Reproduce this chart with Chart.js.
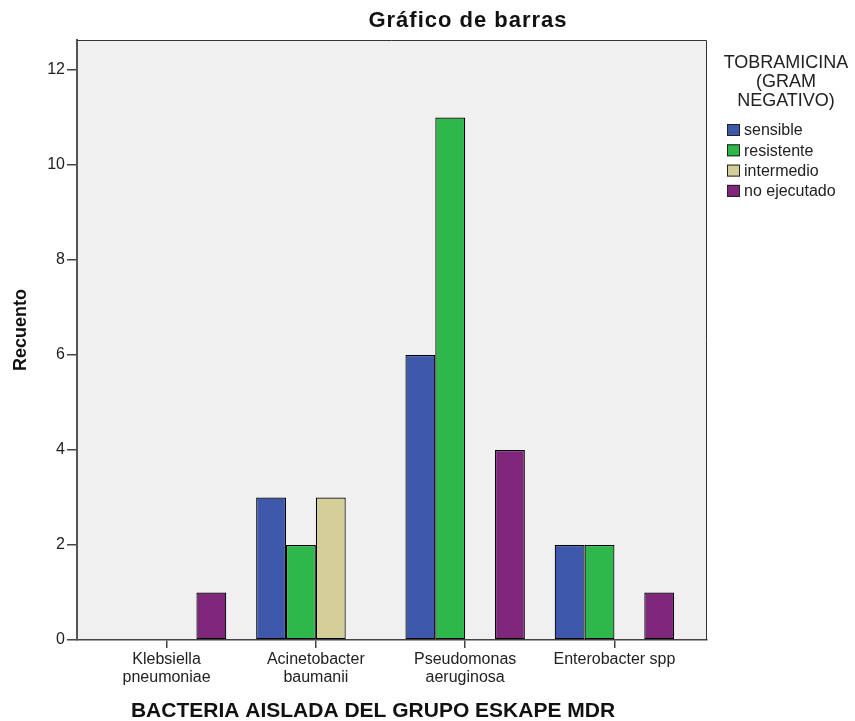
<!DOCTYPE html>
<html>
<head>
<meta charset="utf-8">
<script src="https://cdn.jsdelivr.net/npm/chart.js@4/dist/chart.umd.min.js"></script>
<style>
    body { margin: 0; background: #fff; }
</style>
</head>
<body>
<canvas id="chart" width="855" height="721"></canvas>
<script>
const categories = [
    ['Klebsiella', 'pneumoniae'],
    ['Acinetobacter', 'baumanii'],
    ['Pseudomonas', 'aeruginosa'],
    'Enterobacter spp'
]
const sensible = [null, 3, 6, 2]
const resistente = [null, 2, 11, 2]
const intermedio = [null, 3, null, null]
const noEjecutado = [1, null, 4, 1]
const yTicks = [0, 2, 4, 6, 8, 10, 12]
const legendTitle = ['TOBRAMICINA', '(GRAM', 'NEGATIVO)']

const FONT = 'Arial, "Liberation Sans", sans-serif'

function toPoints(values) {
    return values.map((v, i) => ({ x: i, y: v }))
}

// plot background + frame, titles and the legend drawn by hand (SPSS look)
const spssLook = {
    id: 'spssLook',
    beforeDraw(chart) {
        const { ctx, chartArea: a } = chart
        ctx.save()
        ctx.fillStyle = '#f0f0f0'
        ctx.fillRect(a.left, a.top, a.right - a.left, a.bottom - a.top)
        ctx.restore()
    },
    afterDraw(chart) {
        const { ctx, chartArea: a } = chart
        ctx.save()
        ctx.strokeStyle = '#333'
        ctx.lineWidth = 1
        ctx.beginPath()
        ctx.moveTo(a.left, a.top + 0.5)
        ctx.lineTo(a.right - 0.5, a.top + 0.5)
        ctx.lineTo(a.right - 0.5, a.bottom)
        ctx.stroke()

        ctx.fillStyle = '#111'
        ctx.textAlign = 'center'
        ctx.textBaseline = 'middle'

        // chart title
        ctx.font = 'bold 22px ' + FONT
        ctx.letterSpacing = '1px'
        ctx.fillText('Gráfico de barras', 468, 21)
        ctx.letterSpacing = '0px'

        // axis titles
        ctx.font = 'bold 21px ' + FONT
        ctx.fillText('BACTERIA AISLADA DEL GRUPO ESKAPE MDR', 373, 711)
        ctx.save()
        ctx.translate(21, 330)
        ctx.rotate(-Math.PI / 2)
        ctx.font = 'bold 18px ' + FONT
        ctx.fillText('Recuento', 0, 0)
        ctx.restore()

        // legend
        ctx.font = '18px ' + FONT
        ctx.fillStyle = '#222'
        legendTitle.forEach((line, i) => ctx.fillText(line, 786, 63 + i * 19))

        ctx.textAlign = 'left'
        ctx.font = '16px ' + FONT
        chart.data.datasets.forEach((ds, i) => {
            const y = 130 + i * 20.3
            ctx.fillStyle = ds.backgroundColor
            ctx.fillRect(727, y - 6, 13, 12)
            ctx.strokeStyle = '#222'
            ctx.strokeRect(727.5, y - 5.5, 12, 11)
            ctx.fillStyle = '#222'
            ctx.fillText(ds.label, 744, y + 1)
        })
        ctx.restore()
    }
}

const ctx = document.getElementById('chart')
const data = {
    datasets: [
        { label: 'sensible', data: toPoints(sensible), backgroundColor: '#3e58ac' },
        { label: 'resistente', data: toPoints(resistente), backgroundColor: '#2eb74b' },
        { label: 'intermedio', data: toPoints(intermedio), backgroundColor: '#d4cf98' },
        { label: 'no ejecutado', data: toPoints(noEjecutado), backgroundColor: '#7e277b' }
    ].map(ds => Object.assign(ds, {
        borderColor: '#000',
        borderWidth: 1.2,
        borderSkipped: false,
        categoryPercentage: 0.8,
        barPercentage: 1.0
    }))
}

const myChart = new Chart(ctx, {
    type: 'bar',
    data: data,
    plugins: [spssLook],
    options: {
        responsive: false,
        animation: false,
        layout: {
            padding: { top: 40, right: 148, left: 0, bottom: 0 }
        },
        plugins: {
            legend: { display: false },
            tooltip: { enabled: false }
        },
        scales: {
            x: {
                type: 'linear',
                min: -0.6,
                max: 3.62,
                offset: false,
                afterBuildTicks: scale => {
                    scale.ticks = categories.map((c, i) => ({ value: i }))
                },
                afterFit: scale => { scale.height = 81 },
                ticks: {
                    autoSkip: false,
                    maxRotation: 0,
                    padding: 3,
                    color: '#222',
                    font: { family: FONT, size: 16, lineHeight: 1.1 },
                    callback: value => categories[value]
                },
                grid: {
                    offset: false,
                    drawOnChartArea: false,
                    tickLength: 8,
                    tickColor: '#444',
                    lineWidth: 1.5
                },
                border: { color: '#444', width: 1.5 }
            },
            y: {
                min: 0,
                max: 12.63,
                afterBuildTicks: scale => {
                    scale.ticks = yTicks.map(v => ({ value: v }))
                },
                afterFit: scale => { scale.width = 77 },
                ticks: {
                    padding: 2,
                    color: '#222',
                    font: { family: FONT, size: 16 }
                },
                grid: {
                    drawOnChartArea: false,
                    tickLength: 10,
                    tickColor: '#444',
                    lineWidth: 1.5
                },
                border: { color: '#555', width: 2 }
            }
        }
    }
})
</script>
</body>
</html>
